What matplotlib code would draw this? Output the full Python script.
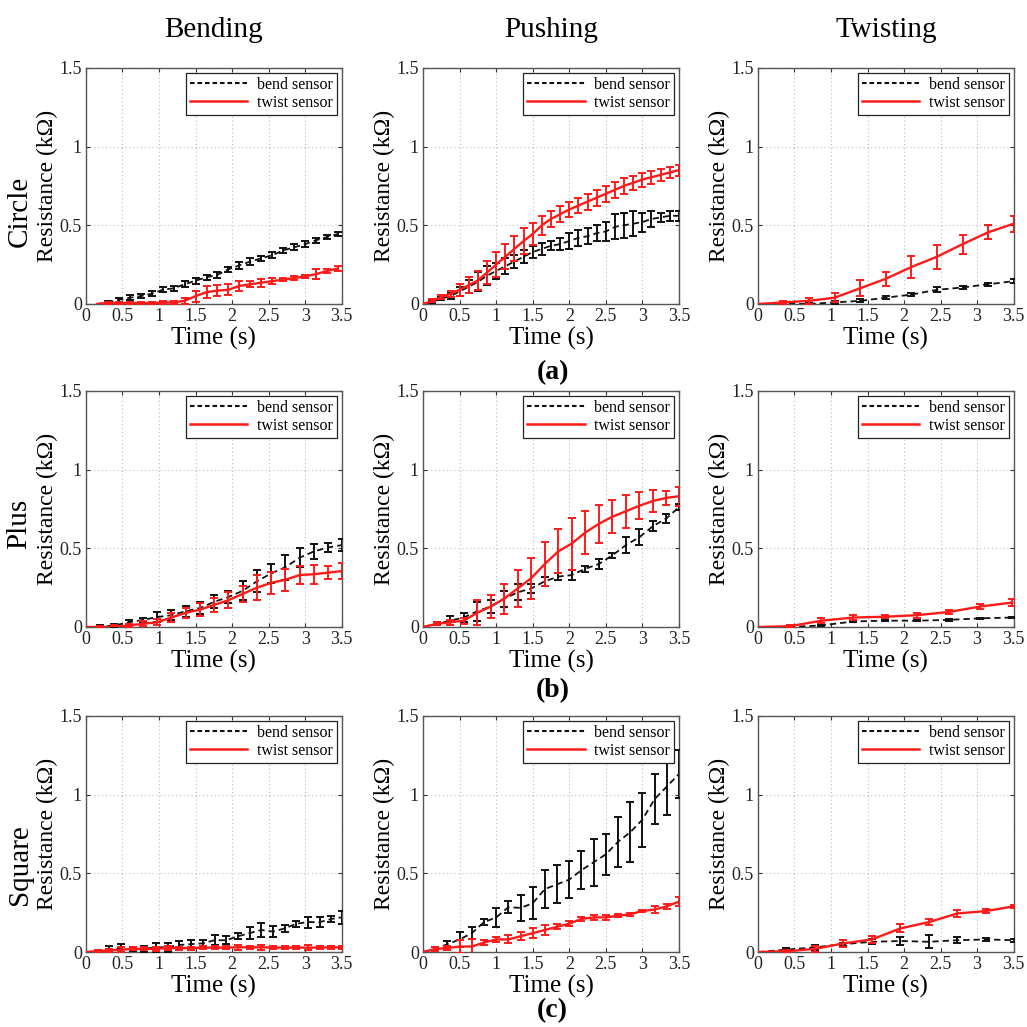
import numpy as np
import matplotlib
matplotlib.use("Agg")
import matplotlib.pyplot as plt
from matplotlib.lines import Line2D
from matplotlib.ticker import FuncFormatter

plt.rcParams["font.family"] = ["Liberation Serif", "DejaVu Serif"]

# ---- Circle ----
circle_bending_t = [0.15, 0.30, 0.45, 0.60, 0.75, 0.90, 1.05, 1.20, 1.35, 1.50, 1.65, 1.80,
                    1.95, 2.10, 2.25, 2.40, 2.55, 2.70, 2.85, 3.00, 3.15, 3.30, 3.45]
circle_bending_bend = [0.0, 0.01, 0.027, 0.04, 0.05, 0.065, 0.09, 0.10, 0.125, 0.148, 0.17, 0.185,
                       0.22, 0.245, 0.27, 0.29, 0.31, 0.34, 0.36, 0.38, 0.405, 0.425, 0.445]
circle_bending_bend_err = [0, 0.01, 0.012, 0.015, 0.015, 0.015, 0.015, 0.015, 0.02, 0.02, 0.015, 0.02,
                           0.015, 0.02, 0.02, 0.015, 0.02, 0.015, 0.02, 0.02, 0.015, 0.01, 0.012]
circle_bending_twist = [0.0, 0.005, 0.005, 0.005, 0.005, 0.005, 0.01, 0.01, 0.02, 0.05, 0.075, 0.085,
                        0.09, 0.115, 0.125, 0.135, 0.145, 0.155, 0.165, 0.175, 0.19, 0.21, 0.225]
circle_bending_twist_err = [0, 0.01, 0.01, 0.008, 0.008, 0.008, 0.01, 0.01, 0.02, 0.035, 0.04, 0.035,
                            0.035, 0.03, 0.02, 0.025, 0.02, 0.01, 0.01, 0.01, 0.03, 0.015, 0.015]

circle_pushing_t = [0, 0.125, 0.25, 0.375, 0.5, 0.625, 0.75, 0.875, 1.0, 1.125, 1.25, 1.375, 1.5,
                    1.625, 1.75, 1.875, 2.0, 2.125, 2.25, 2.375, 2.5, 2.625, 2.75, 2.875, 3.0,
                    3.125, 3.25, 3.375, 3.5]
circle_pushing_bend = [0, 0.015, 0.035, 0.05, 0.08, 0.11, 0.14, 0.18, 0.21, 0.24, 0.27, 0.30, 0.33,
                       0.35, 0.37, 0.38, 0.40, 0.42, 0.43, 0.45, 0.46, 0.49, 0.50, 0.51, 0.52,
                       0.54, 0.55, 0.56, 0.56]
circle_pushing_bend_err = [0, 0.01, 0.01, 0.02, 0.03, 0.04, 0.06, 0.06, 0.05, 0.05, 0.04, 0.04, 0.04,
                           0.04, 0.03, 0.04, 0.05, 0.05, 0.05, 0.05, 0.06, 0.08, 0.08, 0.08, 0.06,
                           0.05, 0.03, 0.03, 0.03]
circle_pushing_twist = [0, 0.02, 0.045, 0.065, 0.09, 0.12, 0.15, 0.20, 0.25, 0.30, 0.35, 0.40, 0.445,
                        0.50, 0.54, 0.57, 0.60, 0.625, 0.65, 0.675, 0.70, 0.725, 0.75, 0.77, 0.79,
                        0.805, 0.82, 0.835, 0.85]
circle_pushing_twist_err = [0, 0.01, 0.015, 0.02, 0.04, 0.05, 0.06, 0.07, 0.08, 0.08, 0.08, 0.08, 0.07,
                            0.06, 0.05, 0.05, 0.05, 0.05, 0.05, 0.05, 0.05, 0.05, 0.05, 0.045, 0.045,
                            0.04, 0.04, 0.035, 0.035]

circle_twisting_t = [0, 0.35, 0.7, 1.05, 1.4, 1.75, 2.1, 2.45, 2.8, 3.15, 3.5]
circle_twisting_bend = [0, 0.0, 0.0, 0.01, 0.02, 0.04, 0.06, 0.09, 0.105, 0.125, 0.145]
circle_twisting_bend_err = [0, 0.005, 0.005, 0.008, 0.01, 0.01, 0.01, 0.015, 0.012, 0.01, 0.012]
circle_twisting_twist = [0, 0.01, 0.02, 0.04, 0.10, 0.16, 0.235, 0.30, 0.38, 0.455, 0.51]
circle_twisting_twist_err = [0, 0.01, 0.02, 0.03, 0.05, 0.045, 0.07, 0.075, 0.06, 0.045, 0.05]

# ---- Plus ----
plus_bending_t = [0, 0.195, 0.39, 0.585, 0.78, 0.975, 1.17, 1.365, 1.56, 1.755, 1.95, 2.145,
                  2.34, 2.535, 2.73, 2.925, 3.12, 3.315, 3.5]
plus_bending_bend = [0, 0.0, 0.01, 0.03, 0.045, 0.063, 0.075, 0.10, 0.12, 0.16, 0.19, 0.23,
                     0.29, 0.34, 0.38, 0.44, 0.48, 0.505, 0.52]
plus_bending_bend_err = [0, 0.01, 0.01, 0.015, 0.015, 0.03, 0.03, 0.035, 0.04, 0.04, 0.04, 0.06,
                         0.07, 0.06, 0.08, 0.06, 0.05, 0.03, 0.04]
plus_bending_twist = [0, 0.0, 0.0, 0.01, 0.02, 0.03, 0.06, 0.09, 0.11, 0.14, 0.17, 0.21,
                      0.25, 0.28, 0.30, 0.33, 0.335, 0.345, 0.355]
plus_bending_twist_err = [0, 0.005, 0.01, 0.01, 0.015, 0.02, 0.03, 0.03, 0.04, 0.045, 0.05, 0.05,
                          0.08, 0.07, 0.07, 0.06, 0.06, 0.04, 0.05]

plus_pushing_t = [0, 0.185, 0.37, 0.555, 0.74, 0.925, 1.11, 1.295, 1.48, 1.665, 1.85, 2.035,
                  2.22, 2.405, 2.59, 2.775, 2.96, 3.145, 3.33, 3.5]
plus_pushing_bend = [0, 0.02, 0.04, 0.06, 0.10, 0.13, 0.18, 0.22, 0.245, 0.29, 0.32, 0.33,
                     0.37, 0.40, 0.455, 0.52, 0.57, 0.64, 0.69, 0.76]
plus_pushing_bend_err = [0, 0.01, 0.03, 0.03, 0.06, 0.04, 0.05, 0.05, 0.03, 0.03, 0.02, 0.03,
                         0.02, 0.03, 0.015, 0.05, 0.05, 0.03, 0.03, 0.02]
plus_pushing_twist = [0, 0.02, 0.03, 0.04, 0.09, 0.13, 0.18, 0.245, 0.31, 0.40, 0.48, 0.53,
                      0.60, 0.655, 0.70, 0.735, 0.77, 0.80, 0.82, 0.83]
plus_pushing_twist_err = [0, 0.01, 0.015, 0.02, 0.08, 0.07, 0.095, 0.115, 0.13, 0.14, 0.14, 0.165,
                          0.135, 0.12, 0.105, 0.105, 0.085, 0.07, 0.045, 0.06]

plus_twisting_t = [0, 0.435, 0.87, 1.305, 1.74, 2.175, 2.61, 3.045, 3.48]
plus_twisting_bend = [0, 0.0, 0.01, 0.035, 0.04, 0.04, 0.045, 0.055, 0.06]
plus_twisting_bend_err = [0, 0.004, 0.005, 0.006, 0.003, 0.003, 0.005, 0.003, 0.003]
plus_twisting_twist = [0, 0.005, 0.04, 0.06, 0.065, 0.075, 0.095, 0.13, 0.155]
plus_twisting_twist_err = [0, 0.01, 0.015, 0.015, 0.01, 0.015, 0.01, 0.015, 0.02]

# ---- Square ----
square_bending_t = [0, 0.16, 0.32, 0.48, 0.64, 0.8, 0.96, 1.12, 1.28, 1.44, 1.6, 1.76, 1.92,
                    2.08, 2.24, 2.4, 2.56, 2.72, 2.88, 3.04, 3.2, 3.36, 3.5]
square_bending_bend = [0, 0.005, 0.02, 0.02, 0.02, 0.02, 0.03, 0.03, 0.045, 0.05, 0.055, 0.075, 0.075,
                       0.10, 0.12, 0.14, 0.13, 0.15, 0.18, 0.19, 0.19, 0.21, 0.22]
square_bending_bend_err = [0, 0.01, 0.02, 0.03, 0.015, 0.02, 0.03, 0.03, 0.025, 0.025, 0.02, 0.03, 0.025,
                           0.02, 0.04, 0.045, 0.035, 0.02, 0.02, 0.035, 0.03, 0.02, 0.04]
square_bending_twist = [0, 0.005, 0.01, 0.015, 0.02, 0.02, 0.02, 0.025, 0.025, 0.025, 0.028, 0.028, 0.028,
                        0.03, 0.03, 0.03, 0.028, 0.028, 0.028, 0.028, 0.028, 0.03, 0.03]
square_bending_twist_err = [0, 0.01, 0.01, 0.015, 0.01, 0.01, 0.015, 0.015, 0.01, 0.01, 0.01, 0.01, 0.01,
                            0.015, 0.01, 0.015, 0.01, 0.01, 0.01, 0.015, 0.01, 0.01, 0.01]

square_pushing_t = [0, 0.167, 0.333, 0.5, 0.667, 0.833, 1.0, 1.167, 1.333, 1.5, 1.667, 1.833,
                    2.0, 2.167, 2.333, 2.5, 2.667, 2.833, 3.0, 3.167, 3.333, 3.5]
square_pushing_bend = [0, 0.02, 0.05, 0.08, 0.12, 0.19, 0.22, 0.285, 0.28, 0.31, 0.40, 0.43,
                       0.46, 0.52, 0.57, 0.62, 0.70, 0.76, 0.84, 0.97, 1.05, 1.13]
square_pushing_bend_err = [0, 0.01, 0.02, 0.05, 0.04, 0.02, 0.06, 0.04, 0.08, 0.10, 0.12, 0.12,
                           0.12, 0.12, 0.15, 0.13, 0.16, 0.19, 0.17, 0.16, 0.18, 0.15]
square_pushing_twist = [0, 0.02, 0.025, 0.035, 0.035, 0.06, 0.08, 0.08, 0.10, 0.12, 0.14, 0.16,
                        0.18, 0.21, 0.22, 0.22, 0.23, 0.24, 0.26, 0.27, 0.29, 0.32]
square_pushing_twist_err = [0, 0.015, 0.015, 0.04, 0.05, 0.015, 0.015, 0.025, 0.025, 0.03, 0.03, 0.015,
                            0.015, 0.015, 0.015, 0.015, 0.01, 0.01, 0.005, 0.02, 0.015, 0.03]

square_twisting_t = [0, 0.39, 0.78, 1.17, 1.56, 1.95, 2.34, 2.73, 3.12, 3.5]
square_twisting_bend = [0, 0.015, 0.03, 0.05, 0.065, 0.07, 0.065, 0.075, 0.08, 0.075]
square_twisting_bend_err = [0, 0.012, 0.015, 0.01, 0.015, 0.025, 0.04, 0.02, 0.01, 0.01]
square_twisting_twist = [0, 0.005, 0.02, 0.055, 0.08, 0.15, 0.19, 0.245, 0.26, 0.29]
square_twisting_twist_err = [0, 0.01, 0.02, 0.02, 0.02, 0.025, 0.02, 0.025, 0.015, 0.01]

shapes = ["Circle", "Plus", "Square"]
motions = ["Bending", "Pushing", "Twisting"]
panel_tags = ["(a)", "(b)", "(c)"]

panels = [
    [(circle_bending_t, circle_bending_bend, circle_bending_bend_err, circle_bending_twist, circle_bending_twist_err),
     (circle_pushing_t, circle_pushing_bend, circle_pushing_bend_err, circle_pushing_twist, circle_pushing_twist_err),
     (circle_twisting_t, circle_twisting_bend, circle_twisting_bend_err, circle_twisting_twist, circle_twisting_twist_err)],
    [(plus_bending_t, plus_bending_bend, plus_bending_bend_err, plus_bending_twist, plus_bending_twist_err),
     (plus_pushing_t, plus_pushing_bend, plus_pushing_bend_err, plus_pushing_twist, plus_pushing_twist_err),
     (plus_twisting_t, plus_twisting_bend, plus_twisting_bend_err, plus_twisting_twist, plus_twisting_twist_err)],
    [(square_bending_t, square_bending_bend, square_bending_bend_err, square_bending_twist, square_bending_twist_err),
     (square_pushing_t, square_pushing_bend, square_pushing_bend_err, square_pushing_twist, square_pushing_twist_err),
     (square_twisting_t, square_twisting_bend, square_twisting_bend_err, square_twisting_twist, square_twisting_twist_err)],
]

RED = "#ff1a1a"
BLACK = "#111111"
BEND_DASH = (0, (3.5, 2.2))

fig = plt.figure(figsize=(10.27, 10.27), dpi=100)

col_left = [0.0837, 0.412, 0.738]
row_bottom = [0.704, 0.3895, 0.073]
ax_w, ax_h = 0.249, 0.230


def draw_series(ax, t, r, e, color, ls, lw):
    t = np.asarray(t, float)
    r = np.asarray(r, float)
    e = np.asarray(e, float)
    ax.plot(t, r, color=color, ls=ls, lw=lw, zorder=3)
    m = e > 0
    ax.errorbar(t[m], r[m], yerr=e[m], fmt="none", ecolor=color, elinewidth=1.4,
                capsize=2.8, capthick=1.4, zorder=3)


fmt = FuncFormatter(lambda v, _: f"{v:g}")

for i in range(3):
    for j in range(3):
        ax = fig.add_axes([col_left[j], row_bottom[i], ax_w, ax_h])
        t, bend, bend_err, twist, twist_err = panels[i][j]
        draw_series(ax, t, bend, bend_err, BLACK, BEND_DASH, 1.3)
        draw_series(ax, t, twist, twist_err, RED, "-", 1.7)

        ax.set_xlim(0, 3.5)
        ax.set_ylim(0, 1.5)
        ax.set_xticks(np.arange(0, 3.51, 0.5))
        ax.set_yticks([0, 0.5, 1, 1.5])
        ax.xaxis.set_major_formatter(fmt)
        ax.yaxis.set_major_formatter(fmt)
        ax.tick_params(direction="in", top=True, right=True, length=3, width=0.8,
                       labelsize=13, colors="#333333", labelcolor="#222222", pad=3)
        ax.grid(True, ls=(0, (1, 2.5)), color="#bbbbbb", lw=0.8)
        for s in ax.spines.values():
            s.set_color("#555555")
            s.set_linewidth(1.0)

        ax.set_xlabel("Time (s)", fontsize=18, labelpad=1)
        ax.set_ylabel("Resistance (kΩ)", fontsize=17, labelpad=1)

        handles = [Line2D([], [], color=BLACK, ls=(0, (2.2, 1.4)), lw=1.5),
                   Line2D([], [], color=RED, ls="-", lw=1.8)]
        leg = ax.legend(handles, ["bend sensor", "twist sensor"], loc="upper right",
                        fontsize=11.5, frameon=True, fancybox=False, framealpha=1,
                        edgecolor="#222222", handlelength=3.6, handletextpad=0.6,
                        labelspacing=0.15, borderpad=0.25, borderaxespad=0.3)
        leg.get_frame().set_linewidth(0.9)

        if j == 0:
            fig.text(0.019, row_bottom[i] + ax_h / 2, shapes[i], rotation=90,
                     fontsize=21, ha="center", va="center_baseline")
        if i == 0:
            fig.text(col_left[j] + ax_w / 2, 0.971, motions[j], fontsize=21,
                     ha="center", va="center")

tag_y = [0.637, 0.328, 0.016]
for k in range(3):
    fig.text(0.538, tag_y[k], panel_tags[k], fontsize=20, fontweight="bold",
             ha="center", va="center")

fig.savefig("out.png", dpi=100, facecolor="white")
